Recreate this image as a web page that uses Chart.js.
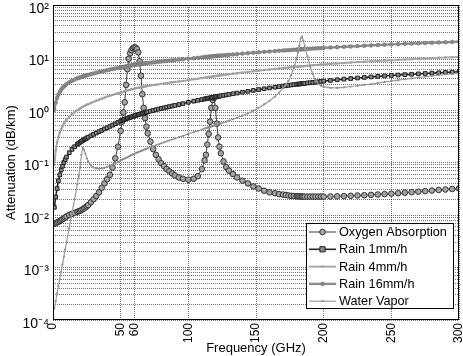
<!DOCTYPE html>
<html><head><meta charset="utf-8">
<script src="https://cdn.jsdelivr.net/npm/chart.js@4.4.0/dist/chart.umd.min.js"></script>
<style>html,body{margin:0;padding:0;background:#fff;}#wrap{width:463px;height:356px;}</style>
</head><body><div id="wrap"><canvas id="c" width="463" height="356"></canvas></div>
<script>
const freq = [
 1,2,3,4,5,6,7,8,9,10,
 12,14,16,18,19,20,21,22,23,24,25,26,28,30,32,34,36,38,40,
 42,44,46,48,50,
 51,52,53,54,55,56,57,58,59,60,61,62,63,64,65,66,67,68,69,70,
 72,74,76,78,80,82,84,86,88,90,
 93,96,100,104,107,110,112,
 113,114,115,116,117,118,119,120,121,122,123,124,
 126,128,130,133,136,140,144,148,152,156,160,164,167,170,172,174,176,178,180,
 181,182,183,184,185,186,
 188,190,192,194,196,198,200,
 205,210,215,220,225,230,235,240,245,250,255,260,265,270,275,280,285,290,295,300];

const oxygen = [
 0.0068,0.0070,0.0072,0.0074,0.0077,0.0080,0.0083,0.0086,0.0090,0.0094,
 0.0100,0.0105,0.0110,0.0115,0.0118,0.0120,0.0124,0.0129,0.0134,0.0140,0.0147,0.0155,0.0175,0.020,0.023,0.027,0.033,0.040,0.048,
 0.058,0.08,0.12,0.2,0.4,
 0.6,0.9,1.4,3.0,6.0,9.5,12,13.8,15,15.6,15.5,14.5,12.5,8.5,4.5,2.0,1.1,0.7,0.48,0.36,
 0.25,0.18,0.14,0.115,0.097,0.085,0.075,0.068,0.062,0.057,
 0.052,0.049,0.047,0.049,0.055,0.075,0.11,
 0.14,0.22,0.35,0.6,1.1,1.55,1.7,1.1,0.55,0.3,0.2,0.15,
 0.105,0.082,0.07,0.06,0.052,0.045,0.04,0.035,0.032,0.029,0.027,0.026,0.025,0.0245,0.024,0.0235,0.0232,0.023,0.0228,
 0.0227,0.0226,0.0225,0.0225,0.0224,0.0224,
 0.0224,0.0224,0.0224,0.0224,0.0224,0.0224,0.0224,
 0.0225,0.0227,0.0229,0.0232,0.0235,0.0238,0.0242,0.0246,0.025,0.0255,0.026,0.0266,0.0272,0.0278,0.0285,0.0292,0.0299,0.0306,0.0313,0.032];

const rain1 = [
 0.014,0.022,0.032,0.045,0.058,0.072,0.085,0.1,0.113,0.127,
 0.153,0.178,0.2,0.222,0.233,0.243,0.253,0.263,0.273,0.283,0.293,0.303,0.323,0.343,0.365,0.387,0.41,0.435,0.46,
 0.487,0.515,0.545,0.58,0.62,
 0.635,0.65,0.665,0.68,0.695,0.71,0.725,0.74,0.755,0.77,0.785,0.8,0.815,0.83,0.845,0.86,0.875,0.89,0.905,0.92,
 0.95,0.98,1.01,1.04,1.07,1.1,1.13,1.16,1.19,1.22,
 1.27,1.32,1.4,1.47,1.53,1.58,1.62,
 1.64,1.66,1.68,1.7,1.72,1.74,1.76,1.78,1.8,1.82,1.84,1.86,
 1.9,1.94,1.98,2.04,2.1,2.18,2.27,2.36,2.45,2.54,2.63,2.72,2.79,2.86,2.9,2.95,3.0,3.04,3.09,
 3.11,3.13,3.15,3.18,3.2,3.22,
 3.27,3.31,3.36,3.4,3.45,3.5,3.55,
 3.66,3.77,3.87,3.97,4.07,4.17,4.27,4.37,4.46,4.55,4.64,4.72,4.8,4.88,4.96,5.04,5.12,5.2,5.27,5.35];

const rain4 = [
 0.09,0.17,0.24,0.31,0.37,0.43,0.49,0.55,0.6,0.65,
 0.74,0.83,0.91,0.99,1.03,1.07,1.11,1.15,1.19,1.22,1.26,1.29,1.36,1.43,1.5,1.57,1.64,1.72,1.8,
 1.87,1.94,2.01,2.08,2.15,
 2.19,2.23,2.27,2.31,2.35,2.39,2.43,2.47,2.51,2.55,2.59,2.62,2.65,2.68,2.71,2.74,2.77,2.8,2.83,2.86,
 2.92,2.98,3.04,3.1,3.15,3.21,3.27,3.32,3.38,3.43,
 3.5,3.58,3.7,3.84,3.95,4.06,4.13,
 4.17,4.2,4.24,4.28,4.31,4.35,4.39,4.42,4.46,4.5,4.53,4.57,
 4.64,4.72,4.79,4.9,5.01,5.16,5.3,5.45,5.6,5.75,5.9,6.05,6.16,6.27,6.35,6.42,6.5,6.57,6.65,
 6.69,6.72,6.76,6.8,6.84,6.87,
 6.95,7.02,7.1,7.17,7.25,7.32,7.4,
 7.56,7.72,7.88,8.03,8.18,8.33,8.47,8.61,8.75,8.89,9.03,9.17,9.31,9.45,9.59,9.73,9.87,10.0,10.13,10.26];

const rain16 = [
 1.0,1.38,1.7,1.96,2.2,2.42,2.62,2.8,2.95,3.1,
 3.36,3.6,3.81,4.0,4.09,4.18,4.27,4.35,4.43,4.51,4.59,4.67,4.82,4.97,5.12,5.27,5.42,5.57,5.72,
 5.87,6.02,6.16,6.3,6.44,
 6.52,6.6,6.68,6.76,6.84,6.92,7.0,7.08,7.16,7.24,7.3,7.36,7.42,7.48,7.54,7.6,7.66,7.72,7.78,7.84,
 7.95,8.06,8.17,8.28,8.39,8.5,8.61,8.72,8.83,8.94,
 9.1,9.26,9.47,9.7,9.88,10.05,10.17,
 10.23,10.29,10.35,10.41,10.47,10.53,10.59,10.65,10.71,10.77,10.83,10.89,
 11.01,11.13,11.25,11.43,11.61,11.85,12.09,12.33,12.57,12.8,13.03,13.25,13.42,13.59,13.7,13.81,13.92,14.03,14.14,
 14.19,14.25,14.3,14.36,14.41,14.47,
 14.58,14.69,14.8,14.91,15.02,15.13,15.24,
 15.5,15.75,16.0,16.25,16.5,16.75,17.0,17.25,17.5,17.75,17.98,18.21,18.44,18.67,18.9,19.12,19.34,19.56,19.78,20.0];

const waterVapor = [
 0.000166,0.00023,0.00032,0.00044,0.0006,0.00083,0.00115,0.0016,0.0022,0.003,
 0.0056,0.0107,0.02,0.039,0.055,0.08,0.14,0.19,0.175,0.145,0.12,0.105,0.088,0.08,0.077,0.076,0.077,0.079,0.083,
 0.087,0.091,0.096,0.102,0.11,
 0.113,0.116,0.119,0.122,0.126,0.13,0.134,0.138,0.142,0.146,0.15,0.154,0.158,0.162,0.166,0.17,0.174,0.178,0.182,0.186,
 0.195,0.204,0.213,0.222,0.232,0.242,0.252,0.263,0.274,0.285,
 0.303,0.322,0.35,0.38,0.4,0.425,0.442,
 0.45,0.46,0.468,0.477,0.486,0.495,0.505,0.515,0.525,0.535,0.545,0.556,
 0.578,0.6,0.625,0.665,0.71,0.78,0.86,0.97,1.1,1.28,1.5,1.8,2.15,2.6,3.0,3.6,4.6,6.3,9.5,
 12.5,17,23,25,21,16.5,
 10.5,6.8,4.8,3.7,3.15,2.9,2.75,
 2.65,2.65,2.7,2.8,2.9,3.0,3.1,3.25,3.4,3.55,3.7,3.85,4.0,4.15,4.3,4.45,4.6,4.75,4.9,5.05];

const seriesLabels = ['Oxygen Absorption','Rain 1mm/h','Rain 4mm/h','Rain 16mm/h','Water Vapor'];
const xTicks = [0,50,60,100,150,200,250,300];
const yDecades = [-4,-3,-2,-1,0,1,2];
const yMinor = [2,3,4,5,6,7,8,9];

const FONT = "'Liberation Sans', Arial, Helvetica, sans-serif";
const SUP = {'-':'\u207B','0':'\u2070','1':'\u00B9','2':'\u00B2','3':'\u00B3','4':'\u2074','5':'\u2075','6':'\u2076','7':'\u2077','8':'\u2078','9':'\u2079'};
function supStr(n){ return String(n).split('').map(c=>SUP[c]).join(''); }

const yTickValues = [];
yDecades.forEach(e=>{
  yTickValues.push(Math.pow(10,e));
  if (e < 2) yMinor.forEach(m=>yTickValues.push(m*Math.pow(10,e)));
});

function pts(arr){ return freq.map((f,i)=>({x:f, y:arr[i]})); }

const styles = [
  {borderColor:'#3c3c3c', borderWidth:1, pointStyle:'circle', pointRadius:2.8, pointBackgroundColor:'#a4a4a4', pointBorderColor:'#333', pointBorderWidth:1, order:5},
  {borderColor:'#262626', borderWidth:1.6, pointStyle:'rect', pointRadius:2.6, pointBackgroundColor:'#8a8a8a', pointBorderColor:'#1e1e1e', pointBorderWidth:1, order:4},
  {borderColor:'#a9a9a9', borderWidth:2, pointStyle:'circle', pointRadius:1.2, pointBackgroundColor:'#a0a0a0', pointBorderColor:'#a0a0a0', pointBorderWidth:0, order:3},
  {borderColor:'#8d8d8d', borderWidth:2.4, pointStyle:'circle', pointRadius:1.8, pointBackgroundColor:'#8a8a8a', pointBorderColor:'#7a7a7a', pointBorderWidth:0.8, order:2},
  {borderColor:'#9c9c9c', borderWidth:1.2, pointStyle:'circle', pointRadius:1.1, pointBackgroundColor:'#8c8c8c', pointBorderColor:'#8c8c8c', pointBorderWidth:0, order:1}
];
const seriesData = [oxygen, rain1, rain4, rain16, waterVapor];

const datasets = seriesData.map((arr,i)=>Object.assign({
  label: seriesLabels[i], data: pts(arr), tension:0, fill:false,
  pointHoverRadius:0
}, styles[i]));

const boxPlugin = {
  id:'axesBox',
  afterDatasetsDraw(chart){
    const a = chart.chartArea, ctx = chart.ctx;
    ctx.save();
    ctx.strokeStyle = '#000'; ctx.lineWidth = 1; ctx.setLineDash([]);
    const l = Math.round(a.left)+0.5, t = Math.round(a.top)+0.5, r = Math.round(a.right)-0.5, b = Math.round(a.bottom)-0.5;
    ctx.strokeRect(l, t, r-l, b-t);
    ctx.restore();
  }
};

const legendPlugin = {
  id:'boxLegend',
  afterDraw(chart){
    const ctx = chart.ctx;
    const L = 306.5, T = 223.5, R = 453.5, B = 308.5;
    ctx.save();
    ctx.setLineDash([]);
    ctx.fillStyle = '#fff'; ctx.fillRect(L, T, R-L, B-T);
    ctx.strokeStyle = '#000'; ctx.lineWidth = 1; ctx.strokeRect(L, T, R-L, B-T);
    ctx.font = '12.7px ' + FONT;
    ctx.textBaseline = 'middle'; ctx.textAlign = 'left';
    chart.data.datasets.forEach((ds, i)=>{
      const y = 232 + i*17.3;
      ctx.strokeStyle = ds.borderColor; ctx.lineWidth = ds.borderWidth;
      ctx.beginPath(); ctx.moveTo(309, y); ctx.lineTo(336, y); ctx.stroke();
      ctx.fillStyle = ds.pointBackgroundColor; ctx.strokeStyle = ds.pointBorderColor; ctx.lineWidth = ds.pointBorderWidth;
      const r = ds.pointRadius, cx = 322.5;
      ctx.beginPath();
      if (ds.pointStyle === 'rect') ctx.rect(cx-r, y-r, 2*r, 2*r);
      else ctx.arc(cx, y, r, 0, Math.PI*2);
      ctx.fill();
      if (ds.pointBorderWidth > 0) ctx.stroke();
      ctx.fillStyle = '#000';
      ctx.fillText(ds.label, 339, y + 0.5);
    });
    ctx.restore();
  }
};

const gridStyle = {color:'rgba(0,0,0,0.55)', lineWidth:1, drawTicks:false};

new Chart(document.getElementById('c'), {
  type:'line',
  data:{datasets},
  options:{
    responsive:false, animation:false, devicePixelRatio:1,
    layout:{padding:{left:0, right:4, top:5, bottom:0}},
    plugins:{legend:{display:false}, tooltip:{enabled:false}},
    events:[],
    scales:{
      x:{
        type:'linear', min:0, max:300,
        afterBuildTicks(s){ s.ticks = xTicks.map(v=>({value:v})); },
        afterFit(s){ s.height = 36; s.paddingLeft = 0; s.paddingRight = 0; },
        ticks:{autoSkip:false, minRotation:90, maxRotation:90, padding:3, color:'#000',
          font:{family:FONT, size:12}, callback:v=>String(v)},
        grid:gridStyle,
        border:{display:false, dash:[1,1]},
        title:{display:true, text:'Frequency (GHz)', color:'#000', font:{family:FONT, size:13}, padding:{top:0, bottom:0}}
      },
      y:{
        type:'logarithmic', min:1e-4, max:1e2,
        afterBuildTicks(s){ s.ticks = yTickValues.map(v=>({value:v})); },
        afterFit(s){ s.width = 53; s.paddingTop = 0; s.paddingBottom = 0; },
        ticks:{autoSkip:false, padding:4, color:'#000', font:{family:FONT, size:14}, labelOffset:4,
          callback:(v)=>{
            const e = Math.log10(v), r = Math.round(e);
            return Math.abs(e - r) < 1e-6 ? '10' + supStr(r) : '';
          }},
        grid:gridStyle,
        border:{display:false, dash:[1,1]},
        title:{display:true, text:'Attenuation (dB/km)', color:'#000', font:{family:FONT, size:13}, padding:{top:4, bottom:0}}
      }
    }
  },
  plugins:[boxPlugin, legendPlugin]
});
</script>
</body></html>
